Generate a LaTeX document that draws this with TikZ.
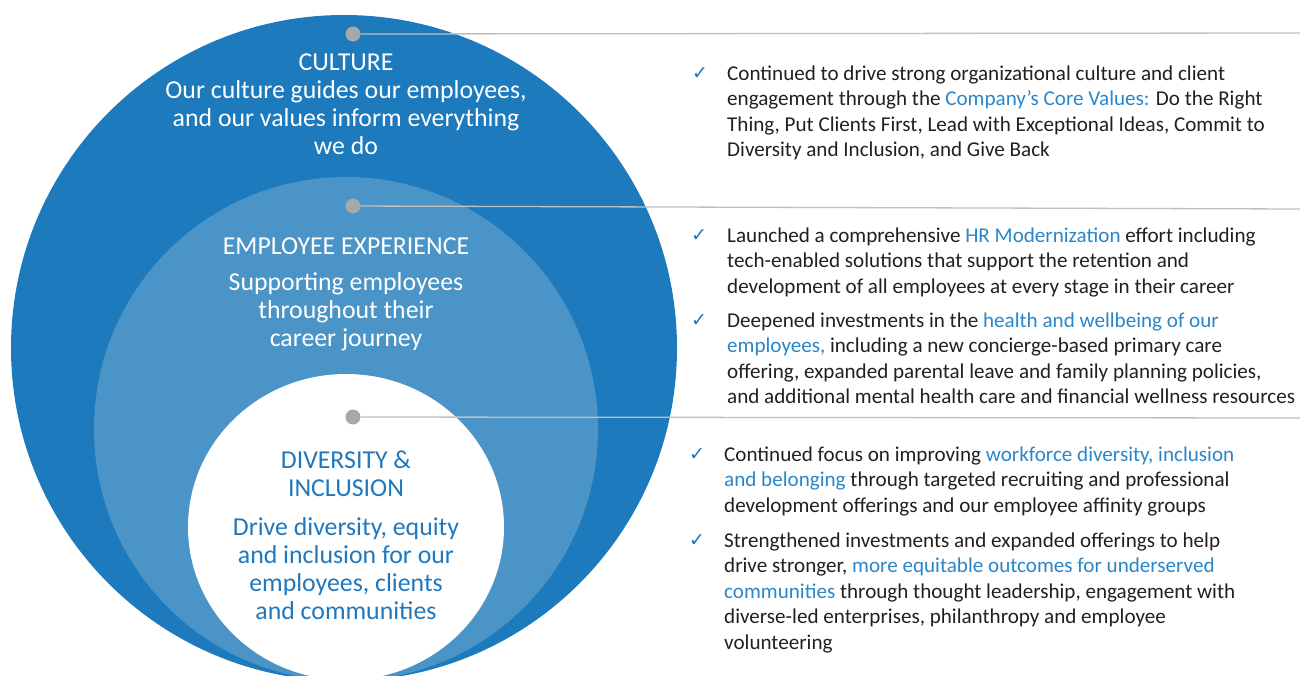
\documentclass[tikz,border=0pt]{standalone}
\usepackage{fontspec}
\setmainfont{Carlito}
\newfontfamily\symfont{DejaVu Sans}
\definecolor{outerblue}{HTML}{1C7ABD}
\definecolor{midblue}{HTML}{4B94C7}
\definecolor{textblue}{HTML}{1F78BE}
\definecolor{hlblue}{HTML}{2A86C8}
\definecolor{bodygray}{HTML}{231F20}
\definecolor{dotgray}{HTML}{A5AAA9}
\definecolor{linegray}{HTML}{BCC1C1}
\newcommand{\hlt}[1]{\textcolor{hlblue}{#1}}
\tikzset{
  dotnode/.style={circle, fill=dotgray, minimum size=15, inner sep=0},
  conn/.style={draw=linegray, line width=1.3},
  lefttext/.style={align=center, inner sep=0, anchor=base, font={\fontsize{25.8}{28}\selectfont}},
  whitetext/.style={lefttext, text=white},
  bluetext/.style={lefttext, text=textblue},
  bullettext/.style={align=left, inner sep=0, anchor=base west, text=bodygray, font={\fontsize{21.1}{25.5}\selectfont}},
  checkmark/.style={inner sep=0, anchor=base, text=textblue, font={\symfont\fontsize{19}{19}\selectfont}}
}
\begin{document}
\begin{tikzpicture}[x=1pt,y=-1pt]
\useasboundingbox (0,0) rectangle (1300,675);
\begin{scope}
  \clip (0,0) rectangle (1300,675);
  \fill[outerblue] (344,348) circle[radius=333];
  \fill[midblue] (346,429) circle[radius=252];
  \fill[white] (346,527) ellipse[x radius=158, y radius=153];
\end{scope}

% dots and connectors
\node[dotnode] (d1) at (353,34) {};
\node[dotnode] (d2) at (353,206) {};
\node[dotnode] (d3) at (353,417) {};
\coordinate (e1) at (1300,33);
\coordinate (e2) at (1300,209);
\coordinate (e3) at (1300,418);
\draw[conn] (d1) -- (e1);
\draw[conn] (d2) -- (e2);
\draw[conn] (d3) -- (e3);

% circle texts (anchor = baseline of the last line)
\node[whitetext] (cult) at (346,154) {CULTURE\\Our culture guides our employees,\\and our values inform everything\\we do};
\node[whitetext] (eetitle) at (346,254) {EMPLOYEE EXPERIENCE};
\node[whitetext] (eebody) at (346,346) {Supporting employees\\throughout their\\career journey};
\node[bluetext] (dititle) at (346,496) {DIVERSITY \&\\INCLUSION};
\node[bluetext] (dibody) at (346,619) {Drive diversity, equity\\and inclusion for our\\employees, clients\\and communities};

% bullets (anchor = baseline of the last line)
\node[checkmark] (c1) at (700,79) {✓};
\node[bullettext] (b1) at (727,156.5) {Continued to drive strong organizational culture and client\\engagement through the \hlt{Company’s Core Values:} Do the Right\\Thing, Put Clients First, Lead with Exceptional Ideas, Commit to\\Diversity and Inclusion, and Give Back};
\node[checkmark] (c2) at (699,241) {✓};
\node[bullettext] (b2) at (727,293) {Launched a comprehensive \hlt{HR Modernization} effort including\\tech-enabled solutions that support the retention and\\development of all employees at every stage in their career};
\node[checkmark] (c3) at (699,326) {✓};
\node[bullettext] (b3) at (727,403.5) {Deepened investments in the \hlt{health and wellbeing of our}\\\hlt{employees,} including a new concierge-based primary care\\offering, expanded parental leave and family planning policies,\\and additional mental health care and financial wellness resources};
\node[checkmark] (c4) at (697,460) {✓};
\node[bullettext] (b4) at (724,512) {Continued focus on improving \hlt{workforce diversity, inclusion}\\\hlt{and belonging} through targeted recruiting and professional\\development offerings and our employee affinity groups};
\node[checkmark] (c5) at (697,546) {✓};
\node[bullettext] (b5) at (724,649) {Strengthened investments and expanded offerings to help\\drive stronger, \hlt{more equitable outcomes for underserved}\\\hlt{communities} through thought leadership, engagement with\\diverse-led enterprises, philanthropy and employee\\volunteering};
\end{tikzpicture}
\end{document}
